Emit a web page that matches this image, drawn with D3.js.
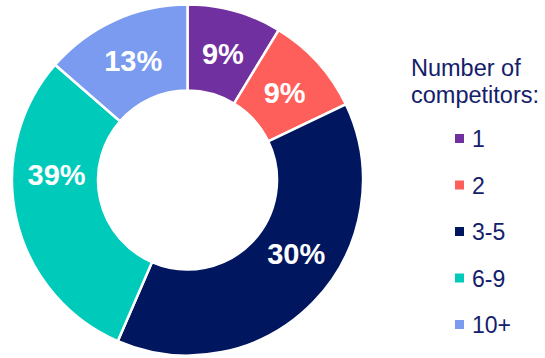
<!DOCTYPE html>
<html>
<head>
<meta charset="utf-8">
<script src="https://cdn.jsdelivr.net/npm/d3@7"></script>
<style>
  html, body { margin: 0; padding: 0; background: #fff; }
  svg { display: block; }
</style>
</head>
<body>
<svg id="chart" width="545" height="358"></svg>
<script>
const categories = ["1", "2", "3-5", "6-9", "10+"];
const values = [8.7, 9.2, 38.6, 29.9, 13.6];
const valueLabels = ["9%", "9%", "30%", "39%", "13%"];
const colors = ["#7030A0", "#FF5F5A", "#00175F", "#00CBBA", "#7A9BF0"];
const legendTitle = ["Number of", "competitors:"];

// layout
const W = 545, H = 358;
const cx = 187.5, cy = 180;
const rOuter = 175.5, rInner = 89.5, rLabel = 131;
const labelNudgeDeg = [0, 0, -10, 15, 0];
const fontFamily = "'Liberation Sans', Arial, Helvetica, sans-serif";
const textColor = "#13206A";

const svg = d3.select("#chart");
const data = categories.map((c, i) => ({ cat: c, value: values[i], label: valueLabels[i], i }));

const pie = d3.pie().value(d => d.value).sort(null).startAngle(0).endAngle(2 * Math.PI);
const arcs = pie(data);
const arc = d3.arc().innerRadius(rInner).outerRadius(rOuter);
const color = d3.scaleOrdinal().domain(categories).range(colors);

const g = svg.append("g").attr("transform", `translate(${cx},${cy})`);

g.selectAll("path.slice")
  .data(arcs)
  .join("path")
  .attr("class", "slice")
  .attr("d", arc)
  .attr("fill", d => color(d.data.cat))
  .attr("stroke", "#fff")
  .attr("stroke-width", 2.5)
  .attr("stroke-linejoin", "miter");

g.selectAll("text.vlabel")
  .data(arcs)
  .join("text")
  .attr("class", "vlabel")
  .attr("x", d => {
    const a = (d.startAngle + d.endAngle) / 2 + labelNudgeDeg[d.data.i] * Math.PI / 180;
    return rLabel * Math.sin(a);
  })
  .attr("y", d => {
    const a = (d.startAngle + d.endAngle) / 2 + labelNudgeDeg[d.data.i] * Math.PI / 180;
    return -rLabel * Math.cos(a);
  })
  .attr("dy", "0.36em")
  .attr("text-anchor", "middle")
  .attr("fill", "#fff")
  .attr("font-family", fontFamily)
  .attr("font-weight", "bold")
  .attr("font-size", 29)
  .text(d => d.data.label);

// legend
const lg = svg.append("g");
lg.selectAll("text.title")
  .data(legendTitle)
  .join("text")
  .attr("class", "title")
  .attr("x", 411)
  .attr("y", (d, i) => 76 + i * 27)
  .attr("fill", textColor)
  .attr("font-family", fontFamily)
  .attr("font-size", 23.5)
  .text(d => d);

const legendY = d3.scalePoint().domain(categories).range([147, 333]);

const items = lg.selectAll("g.item")
  .data(data)
  .join("g")
  .attr("class", "item")
  .attr("transform", d => `translate(0,${legendY(d.cat)})`);

items.append("rect")
  .attr("x", 455)
  .attr("y", -13)
  .attr("width", 9)
  .attr("height", 9)
  .attr("fill", d => color(d.cat));

items.append("text")
  .attr("x", 472)
  .attr("y", 0)
  .attr("fill", textColor)
  .attr("font-family", fontFamily)
  .attr("font-size", 23)
  .text(d => d.cat);
</script>
</body>
</html>
